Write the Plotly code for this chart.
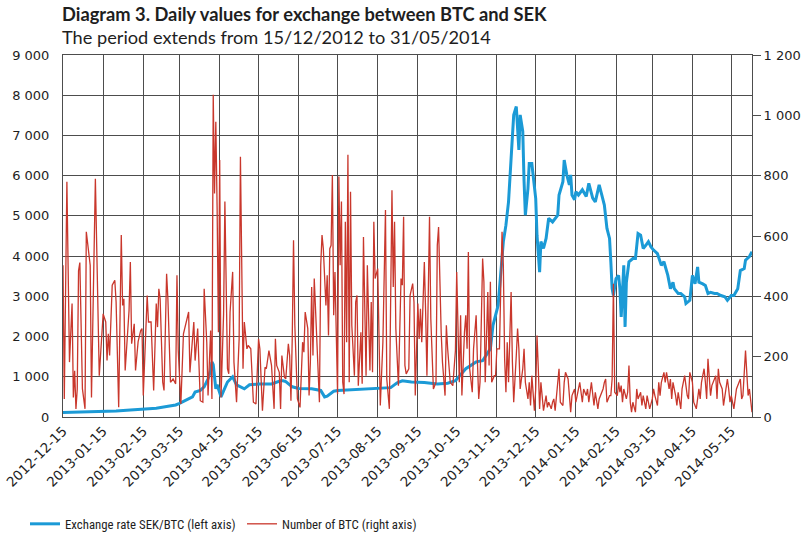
import pandas as pd
import plotly.graph_objects as go

# ---------------- data ----------------
start_date = "2012-12-15"
end_date = "2014-05-31"

# Exchange rate SEK/BTC (left axis): day offset from start_date, value
rate_day = [0, 10, 21, 31, 41, 52, 62, 72, 80, 87, 90, 95, 100, 102, 106, 109, 112, 114, 115, 116,
            118, 119, 122, 124, 127, 131, 134, 140, 144, 151, 161, 168, 170, 172, 177, 182, 192, 199, 202, 204,
            209, 212, 222, 233, 243, 253, 258, 262, 269, 279, 289, 297, 303, 311, 319, 324, 330, 332, 336, 338,
            340, 342, 344, 346, 348, 350, 352, 353, 355, 356, 357, 359, 360, 362, 363, 365, 366, 368, 369, 371,
            373, 375, 378, 382, 383, 386, 387, 389, 391, 392, 393, 395, 396, 398, 401, 404, 406, 409, 411, 414,
            416, 418, 420, 422, 423, 424, 425, 427, 429, 430, 431, 433, 434, 435, 437, 440, 442, 444, 446, 448,
            450, 452, 454, 456, 459, 462, 464, 467, 469, 471, 472, 475, 477, 480, 481, 484, 486, 488, 490, 491,
            494, 496, 498, 500, 503, 505, 508, 511, 513, 516, 518, 521, 523, 526, 527, 530, 532]
rate_sek = [110, 115, 125, 135, 150, 175, 200, 220, 260, 300, 340, 430, 500, 620, 660, 750, 950, 1150, 1370, 1300,
            700, 800, 500, 650, 870, 1000, 800, 700, 800, 820, 820, 900, 900, 880, 750, 710, 700, 660, 500, 520,
            640, 660, 680, 700, 710, 730, 850, 900, 870, 860, 820, 840, 900, 1200, 1370, 1400, 1700, 2280, 2780, 3520,
            4360, 4770, 5350, 6430, 7510, 7720, 6640, 7510, 7100, 5860, 5020, 5680, 6300, 6300, 6020, 5430, 4520, 3600, 4360, 4190,
            4440, 4940, 4850, 5020, 5520, 5850, 6390, 6020, 5770, 6020, 5520, 5400, 5600, 5520, 5650, 5480, 5810, 5440, 5350, 5770,
            5520, 5270, 4690, 4440, 3860, 3190, 3020, 3440, 3520, 3190, 2490, 3770, 2240, 3350, 3860, 3940, 3940, 4560, 4520, 4190,
            4270, 4360, 4230, 4150, 4060, 3770, 3860, 3520, 3190, 3350, 3190, 3070, 3070, 2990, 2820, 2900, 3520, 3310, 3730, 3350,
            3310, 3270, 3070, 3100, 3070, 3070, 3020, 2990, 2900, 3020, 3020, 3190, 3640, 3690, 3900, 3990, 4110]

# Number of BTC (right axis): day offset from start_date, value
btc_day = [0, 1, 3, 5, 7, 8, 9, 10, 11, 12, 13, 15, 17, 18, 21, 22, 25, 28, 31, 33,
           34, 35, 36, 38, 40, 41, 43, 45, 46, 47, 48, 51, 52, 53, 55, 56, 58, 60, 61, 62,
           65, 66, 68, 69, 70, 72, 73, 74, 75, 77, 78, 80, 81, 83, 85, 87, 88, 89, 91, 93,
           95, 97, 98, 101, 102, 104, 106, 108, 109, 111, 112, 114, 115, 116, 117, 118, 119, 120, 121, 122,
           124, 125, 127, 128, 129, 131, 132, 134, 136, 137, 139, 140, 142, 143,
           145, 147, 149, 151, 152, 154, 156, 157, 159, 161, 163, 164, 165, 167, 168, 169, 171, 172, 174, 175,
           176, 177, 178, 179, 181, 183, 185, 186, 187, 189, 190, 191, 192, 193, 194, 196, 198, 199, 200, 201,
           203, 204, 205, 206, 207, 208, 209, 210, 211, 212, 213, 214, 215, 216, 217, 218, 219, 220, 221, 222,
           223, 225, 226, 227, 228, 230, 231, 232, 234, 235, 237, 238, 239, 240, 241, 243, 244, 245, 247, 248,
           249, 250, 252, 254, 255, 256, 257, 259, 260, 261, 262, 263, 264, 265, 267, 268, 270, 271, 272, 274,
           275, 276, 277, 279, 280, 281, 283, 284, 286, 288, 289, 290, 292, 293, 295, 296, 297, 298, 299,
           301, 303, 304, 306, 307, 308, 310, 311, 312, 313, 314, 315, 316, 317, 319, 320, 321, 322, 324, 325,
           326, 328, 329, 330, 331, 333, 334, 335, 337, 338, 339, 340, 341, 342, 343, 344, 346, 347, 348, 350,
           351, 352, 353, 355, 356, 357, 359, 360, 361, 362, 364, 365, 366, 367, 368, 369, 370, 371, 373, 374,
           375, 377, 378, 379, 380, 382, 383, 384, 386, 387, 388, 390, 391, 392, 393, 395, 396, 397, 399, 400,
           401, 402, 404, 405, 406, 408, 409, 410, 411, 413, 414, 415, 417, 418, 419, 420, 422,
           423, 424, 425, 426, 428, 429, 430, 431, 432, 433, 435, 436, 437, 438, 439, 440, 442, 443, 444, 446,
           447, 448, 450, 451, 452, 453, 455, 456, 457, 459, 460, 461, 462, 464, 465, 466, 468, 469, 470, 471,
           473, 474, 475, 477, 478, 479, 480, 482, 483, 484, 486, 487, 488, 489, 491, 492, 493, 495, 496, 497,
           498, 500, 501, 502, 504, 505, 506, 507, 509, 510, 511, 513, 514, 515, 516, 518, 519, 520, 522, 523,
           524, 525, 527, 528, 529, 530, 532]
btc_count = [503, 60, 780, 182, 376, 65, 153, 27, 93, 485, 512, 93, 27, 614, 503, 65, 790, 137, 342, 315,
             187, 276, 204, 437, 453, 381, 32, 603, 370, 392, 154, 353, 514, 243, 309, 154, 250, 287, 293, 71,
             403, 315, 315, 193, 88, 376, 298, 425, 392, 115, 88, 475, 392, 115, 126, 110, 470, 220, 43, 276,
             315, 348, 148, 315, 187, 293, 54, 49, 425, 248, 71, 287, 60, 1068, 741, 979, 691, 281, 852, 65,
             342, 714, 160, 143, 348, 481, 182, 49, 259, 863, 160, 315, 226, 237,
             226, 49, 43, 259, 226, 21, 165, 160, 220, 171, 27, 259, 171, 148, 27, 204, 132, 126, 243, 204,
             54, 259, 586, 304, 60, 32, 248, 215, 348, 293, 71, 182, 431, 204, 459, 259, 49, 503, 603, 558,
             370, 470, 270, 558, 569, 802, 337, 481, 270, 76, 797, 503, 714, 115, 76, 647, 248, 869, 115, 747,
             304, 137, 381, 403, 104, 281, 110, 597, 137, 503, 154, 381, 148, 647, 459, 492, 270, 38, 248, 470,
             686, 126, 27, 752, 431, 647, 293, 104, 287, 459, 437, 664, 171, 143, 160, 403, 442, 381, 71, 376,
             259, 359, 248, 514, 348, 137, 664, 326, 93, 115, 569, 630, 281, 182, 71, 304, 226, 171, 115,
             104, 220, 481, 115, 337, 71, 281, 337, 226, 547, 160, 115, 82, 226, 337, 182, 60, 115, 525, 448,
             115, 414, 171, 448, 115, 137, 137, 226, 226, 425, 614, 503, 193, 82, 248, 115, 414, 182, 49, 204,
             293, 226, 93, 160, 226, 115, 60, 115, 38, 137, 21, 93, 270, 160, 27, 115, 60, 21, 71, 32,
             49, 27, 49, 60, 21, 115, 160, 49, 38, 115, 148, 126, 65, 16, 71, 93, 49, 71, 115, 82,
             49, 93, 71, 93, 49, 115, 71, 38, 82, 27, 60, 71, 93, 115, 126, 49, 71,
             71, 126, 442, 82, 71, 115, 82, 104, 49, 93, 60, 82, 171, 49, 16, 49, 16, 93, 60, 82,
             38, 71, 27, 71, 49, 27, 60, 93, 71, 38, 115, 71, 115, 148, 115, 148, 93, 126, 60, 115,
             71, 38, 82, 27, 93, 115, 137, 71, 60, 148, 115, 49, 38, 27, 93, 60, 115, 160, 115, 60,
             193, 71, 104, 115, 137, 60, 160, 115, 93, 38, 71, 126, 93, 49, 71, 27, 60, 93, 115, 126,
             60, 71, 220, 137, 71, 93, 16]

# axis ticks
x_tick_labels = ["2012-12-15", "2013-01-15", "2013-02-15", "2013-03-15", "2013-04-15", "2013-05-15",
                 "2013-06-15", "2013-07-15", "2013-08-15", "2013-09-15", "2013-10-15", "2013-11-15",
                 "2013-12-15", "2014-01-15", "2014-02-15", "2014-03-15", "2014-04-15", "2014-05-15"]
left_tick_vals = [0, 1000, 2000, 3000, 4000, 5000, 6000, 7000, 8000, 9000]
left_tick_labels = ["0", "1 000", "2 000", "3 000", "4 000", "5 000", "6 000", "7 000", "8 000", "9 000"]
right_tick_vals = [0, 200, 400, 600, 800, 1000, 1200]
right_tick_labels = ["0", "200", "400", "600", "800", "1 000", "1 200"]

title_text = "Diagram 3. Daily values for exchange between BTC and SEK"
subtitle_text = "The period extends from 15/12/2012 to 31/05/2014"
rate_name = "Exchange rate SEK/BTC (left axis)"
btc_name = "Number of BTC (right axis)"

assert len(rate_day) == len(rate_sek), (len(rate_day), len(rate_sek))
assert len(btc_day) == len(btc_count), (len(btc_day), len(btc_count))

# ---------------- figure ----------------
BLUE = "#1b9ad6"
RED = "#c9372c"
GRID = "#4d4d4d"
TEXT = "#1e1e1e"
TITLE_FONT = "Lato"
TICK_FONT = "DejaVu Sans"
LEGEND_FONT = "Roboto Condensed, Roboto"

t0 = pd.Timestamp(start_date)
rate_x = t0 + pd.to_timedelta(rate_day, unit="D")
btc_x = t0 + pd.to_timedelta(btc_day, unit="D")

fig = go.Figure()
fig.add_trace(go.Scatter(x=rate_x, y=rate_sek, name=rate_name, mode="lines",
                         line=dict(color=BLUE, width=3), legend="legend"))
fig.add_trace(go.Scatter(x=btc_x, y=btc_count, name=btc_name, mode="lines", yaxis="y2",
                         line=dict(color=RED, width=1.3), legend="legend2"))

W, H = 803, 539
L, R, T, B = 63, 51, 55, 122
pw, ph = W - L - R, H - T - B

def px_x(px):
    return (px - L) / pw

def px_y(py):
    return (H - B - py) / ph

fig.update_layout(
    width=W, height=H, autosize=False,
    margin=dict(l=L, r=R, t=T, b=B, pad=0, autoexpand=False),
    paper_bgcolor="white", plot_bgcolor="white",
    font=dict(family=TICK_FONT, size=13, color=TEXT),
    xaxis=dict(type="date", range=[start_date, end_date], automargin=False,
               tickvals=x_tick_labels, ticktext=x_tick_labels, tickangle=-45,
               ticklabeloverflow="allow",
               showgrid=True, gridcolor=GRID, gridwidth=1,
               showline=True, linecolor=GRID, linewidth=1, mirror=True,
               ticks="", zeroline=False, tickfont=dict(family=TICK_FONT, size=13.5)),
    yaxis=dict(range=[0, 9000], tickvals=left_tick_vals, ticktext=left_tick_labels, automargin=False,
               ticklabeloverflow="allow",
               showgrid=True, gridcolor=GRID, gridwidth=1,
               showline=True, linecolor=GRID, linewidth=1,
               ticks="", ticklabelstandoff=10, zeroline=False, tickfont=dict(family=TICK_FONT, size=13)),
    yaxis2=dict(range=[0, 1200], tickvals=right_tick_vals, ticktext=right_tick_labels, automargin=False,
                ticklabeloverflow="allow",
                overlaying="y", side="right", showgrid=False,
                showline=True, linecolor=GRID, linewidth=1,
                ticks="outside", ticklen=8, tickcolor=GRID,
                zeroline=False, tickfont=dict(family=TICK_FONT, size=13)),
    legend=dict(x=px_x(25), y=px_y(509), xanchor="left", yanchor="top",
                orientation="h", bgcolor="rgba(0,0,0,0)",
                font=dict(family=LEGEND_FONT, size=12.8, color=TEXT)),
    legend2=dict(x=px_x(242), y=px_y(509), xanchor="left", yanchor="top",
                 orientation="h", bgcolor="rgba(0,0,0,0)",
                 font=dict(family=LEGEND_FONT, size=12.8, color=TEXT)),
    showlegend=True,
    annotations=[
        dict(text="<b>" + title_text + "</b>", xref="paper", yref="paper",
             x=px_x(60), y=px_y(14.3), xanchor="left", yanchor="middle", showarrow=False,
             font=dict(family=TITLE_FONT, size=18.3, color=TEXT)),
        dict(text=subtitle_text, xref="paper", yref="paper",
             x=px_x(60), y=px_y(36.8), xanchor="left", yanchor="middle", showarrow=False,
             font=dict(family=TITLE_FONT, size=18.2, color=TEXT)),
    ],
)

fig.write_html("out.html", config={"displayModeBar": False},
               post_script="document.body.style.margin='0px';document.body.style.overflow='hidden';")
